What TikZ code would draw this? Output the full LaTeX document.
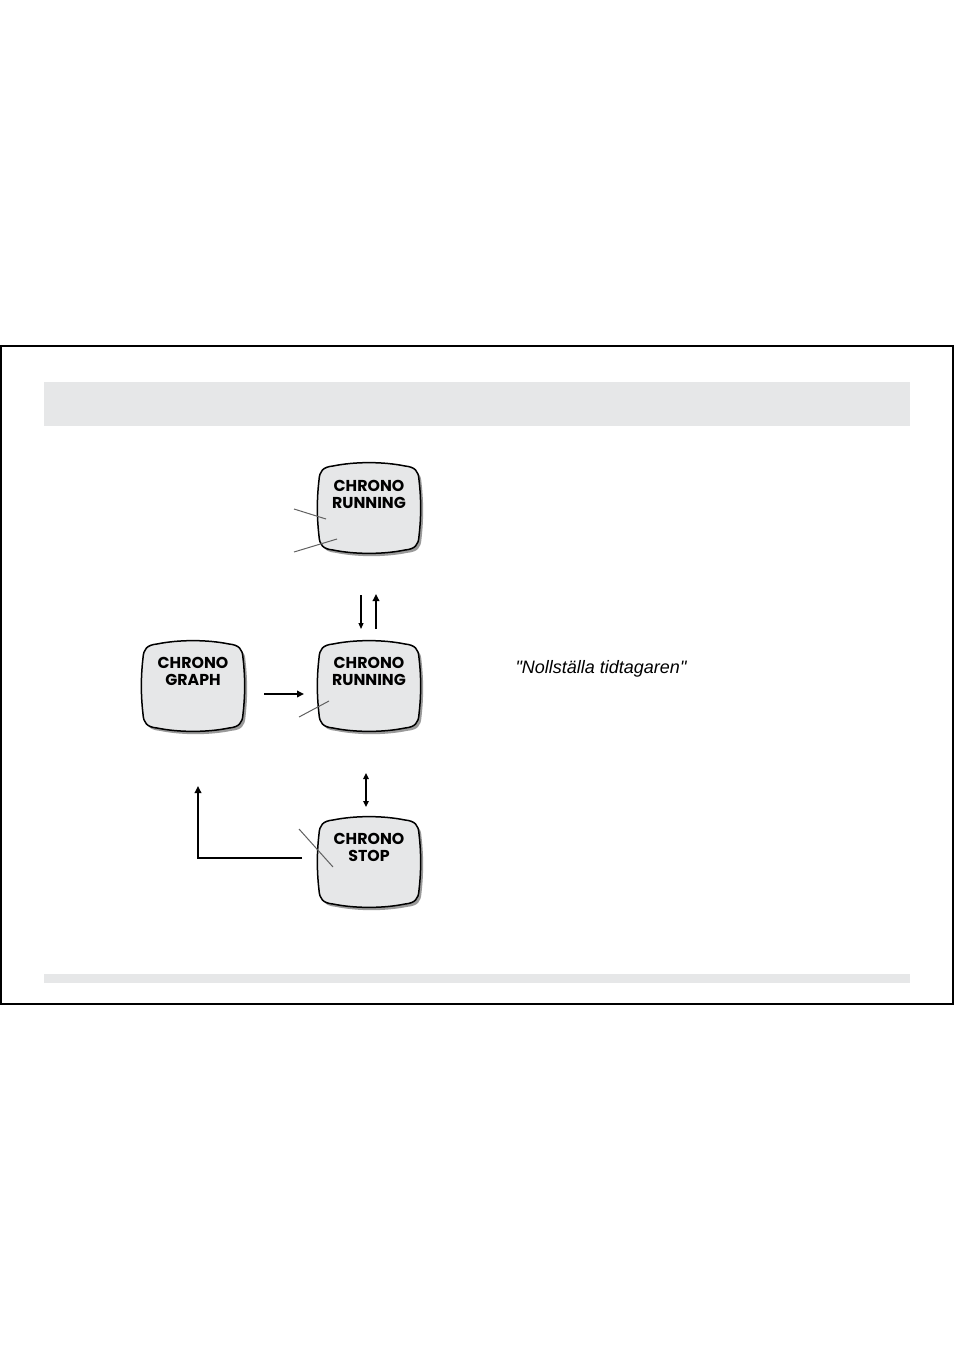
\documentclass[tikz,border=0pt]{standalone}
\usepackage{fontspec}
\setmainfont{Liberation Sans}
\newfontfamily\scrfont{Poppins}
\newfontfamily\capfont{Liberation Sans}[Ligatures=TeXOff]
\usetikzlibrary{arrows.meta}
\definecolor{barfill}{HTML}{E6E7E8}
\definecolor{scrfill}{HTML}{E6E7E8}
\definecolor{shadowgray}{HTML}{9A9A9A}
\definecolor{ptrgray}{HTML}{606060}
\tikzset{
  x=1pt, y=-1pt,
  screen/.pic={
    \filldraw[fill=scrfill, draw=black, line width=1.5,
      preaction={fill=shadowgray, transform canvas={shift={(2.5,2.8)}}}]
      (-36,-42) .. controls (-14,-46.5) and (14,-46.5) .. (36,-42)
      .. controls (46,-41) and (49.5,-37) .. (50,-28)
      .. controls (52.2,-9) and (52.2,9) .. (50,28)
      .. controls (49.5,37) and (46,41) .. (36,42)
      .. controls (14,46.5) and (-14,46.5) .. (-36,42)
      .. controls (-46,41) and (-49.5,37) .. (-50,28)
      .. controls (-52.2,9) and (-52.2,-9) .. (-50,-28)
      .. controls (-49.5,-37) and (-46,-41) .. (-36,-42) -- cycle;
  },
  scrtext/.style={align=center, inner sep=0pt,
    font=\scrfont\bfseries\fontsize{15.8}{17.5}\selectfont},
  ptr/.style={draw=ptrgray, line width=1},
  thinarrow/.style={draw=black, line width=1.2, -{Triangle[length=6,width=5]}},
  thickarrow/.style={draw=black, line width=2.8, -{Triangle[length=7,width=6.5]}},
  dblarrow/.style={draw=black, line width=1.5, {Triangle[length=6,width=5.5]}-{Triangle[length=6,width=5.5]}},
}
\begin{document}
\begin{tikzpicture}
\useasboundingbox (0,0) rectangle (954,1351);
% frame and bars
\draw[line width=1.6] (1,346) rectangle (953,1004);
\fill[barfill] (44,382) rectangle (910,426);
\fill[barfill] (44,974) rectangle (910,983);

% screens
\pic at (369,508) {screen};
\pic at (193,686) {screen};
\pic at (369,686) {screen};
\pic at (369,862) {screen};

\node[scrtext] (tRun) at (369,494.5) {CHRONO\\RUNNING};
\node[scrtext] (mGraph) at (193,671.5) {CHRONO\\GRAPH};
\node[scrtext] (mRun) at (369,671.5) {CHRONO\\RUNNING};
\node[scrtext] (bStop) at (369,847.5) {CHRONO\\STOP};

% pointer lines
\coordinate (p1a) at (294,509); \coordinate (p1b) at (326,519);
\coordinate (p2a) at (294,552); \coordinate (p2b) at (337,539);
\coordinate (p3a) at (299,717); \coordinate (p3b) at (329,701);
\coordinate (p4a) at (299,829); \coordinate (p4b) at (333,867);
\draw[ptr] (p1a) -- (p1b);
\draw[ptr] (p2a) -- (p2b);
\draw[ptr] (p3a) -- (p3b);
\draw[ptr] (p4a) -- (p4b);

% arrows
\coordinate (d1s) at (361,595); \coordinate (d1e) at (361,629);
\coordinate (u1s) at (376,629); \coordinate (u1e) at (376,594);
\draw[thinarrow] (d1s) -- (d1e);
\draw[thickarrow] (u1s) -- (u1e);

\coordinate (hs) at (264,694); \coordinate (he) at (304,694);
\draw[thickarrow] (hs) -- (he);

\coordinate (vs) at (366,773); \coordinate (ve) at (366,807);
\draw[dblarrow] (vs) -- (ve);

\coordinate (ls) at (302,858); \coordinate (lc) at (198,858); \coordinate (le) at (198,786);
\draw[thickarrow] (ls) -- (lc) -- (le);

% caption
\node[font=\capfont\itshape\fontsize{18}{20}\selectfont, inner sep=0pt] (cap) at (601,669) {"Nollställa tidtagaren"};
\end{tikzpicture}
\end{document}
